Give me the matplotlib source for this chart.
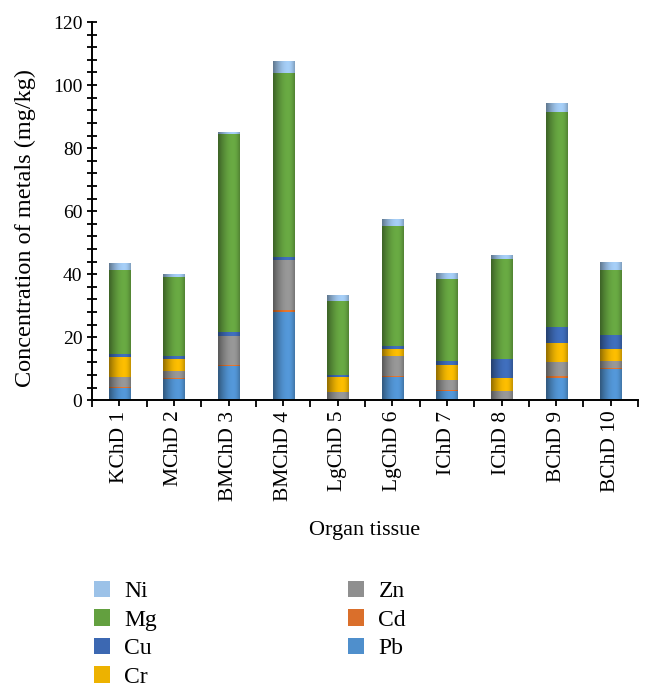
import numpy as np
import matplotlib.pyplot as plt
from matplotlib.colors import to_rgb
from matplotlib.ticker import MultipleLocator

plt.rcParams['font.family'] = ['Liberation Serif', 'DejaVu Serif']

organs = ["KChD 1", "MChD 2", "BMChD 3", "BMChD 4", "LgChD 5",
          "LgChD 6", "IChD 7", "IChD 8", "BChD 9", "BChD 10"]

# mg/kg (bottom to top)
pb = [4.0, 6.7, 11.0, 28.1, 0.0, 7.4, 3.0, 0.0, 7.2, 9.8]
cd = [0.2, 0.2, 0.1, 0.5, 0.5, 0.2, 0.1, 0.5, 0.4, 0.4]
zn = [3.3, 2.4, 9.3, 16.0, 2.1, 6.3, 3.3, 2.4, 4.6, 2.3]
cr = [6.2, 3.8, 0.0, 0.0, 4.8, 2.3, 4.9, 4.0, 6.1, 3.6]
cu = [1.0, 0.9, 1.3, 1.0, 0.5, 1.1, 1.1, 6.2, 4.8, 4.6]
mg = [26.5, 25.1, 62.7, 58.1, 23.7, 37.9, 26.0, 31.6, 68.3, 20.7]
ni = [2.2, 1.0, 0.8, 4.0, 1.8, 2.2, 1.9, 1.3, 2.8, 2.4]

metals = ["Pb", "Cd", "Zn", "Cr", "Cu", "Mg", "Ni"]
values = [pb, cd, zn, cr, cu, mg, ni]
colors = ["#4F8FCC", "#DA6F2B", "#8F8F8F", "#EDB200", "#3C68B2", "#63A03F", "#9CC2E8"]

# brightness across a bar (cylinder look)
prof = np.linspace(0, 1, 40)
shade = 0.62 + 0.45 * np.sin(np.clip(prof / 0.7, 0, 1) * np.pi / 2) - 0.25 * np.clip((prof - 0.7) / 0.3, 0, 1) ** 2

fig = plt.figure(figsize=(6.53, 6.9), dpi=100)
ax = fig.add_axes([0.141, 0.42, 0.836, 0.548])

x = np.arange(len(organs))
w = 0.385
bottom = np.zeros(len(organs))
handles = []
for name, vals, c in zip(metals, values, colors):
    bars = ax.bar(x, vals, w, bottom=bottom, color=c, label=name, linewidth=0)
    handles.append(bars)
    rgb = np.array(to_rgb(c))
    img = np.clip(shade[None, :, None] * rgb[None, None, :], 0, 1)
    for r in bars.patches:
        if r.get_height() <= 0:
            continue
        x0, y0 = r.get_x(), r.get_y()
        im = ax.imshow(img, extent=[x0, x0 + r.get_width(), y0, y0 + r.get_height()],
                       aspect='auto', interpolation='bilinear', zorder=2)
        im.set_clip_path(r)
    bottom += np.array(vals)

ax.set_xlim(-0.5, len(organs) - 0.5)
ax.set_ylim(0, 120)
ax.spines['top'].set_visible(False)
ax.spines['right'].set_visible(False)
ax.spines['left'].set_linewidth(1.4)
ax.spines['bottom'].set_linewidth(1.4)

ax.yaxis.set_major_locator(MultipleLocator(20))
ax.yaxis.set_minor_locator(MultipleLocator(4))
ax.tick_params(axis='y', which='both', direction='inout', length=7, width=1.3, labelsize=14)

ax.set_xticks(x)
ax.set_xticklabels(organs, rotation=90, fontsize=15.5)
ax.set_xticks(np.arange(len(organs) + 1) - 0.5, minor=True)
ax.tick_params(axis='x', which='major', direction='inout', length=8, width=1.3)
ax.tick_params(axis='x', which='minor', direction='out', length=5, width=1.3)

ax.set_ylabel("Concentration of metals (mg/kg)", fontsize=17.5)
ax.yaxis.set_label_coords(-0.103, 0.455)
ax.set_xlabel("Organ tissue", fontsize=16, labelpad=15)

leg_h = handles[::-1]
leg_l = metals[::-1]
fig.legend(leg_h, leg_l, ncol=2, loc='upper left', bbox_to_anchor=(0.144, 0.158),
           frameon=False, fontsize=17, handlelength=0.68, handleheight=0.68,
           handletextpad=0.6, columnspacing=8.1, labelspacing=0.3, borderpad=0,
           borderaxespad=0)

plt.savefig("out.png", dpi=100)
